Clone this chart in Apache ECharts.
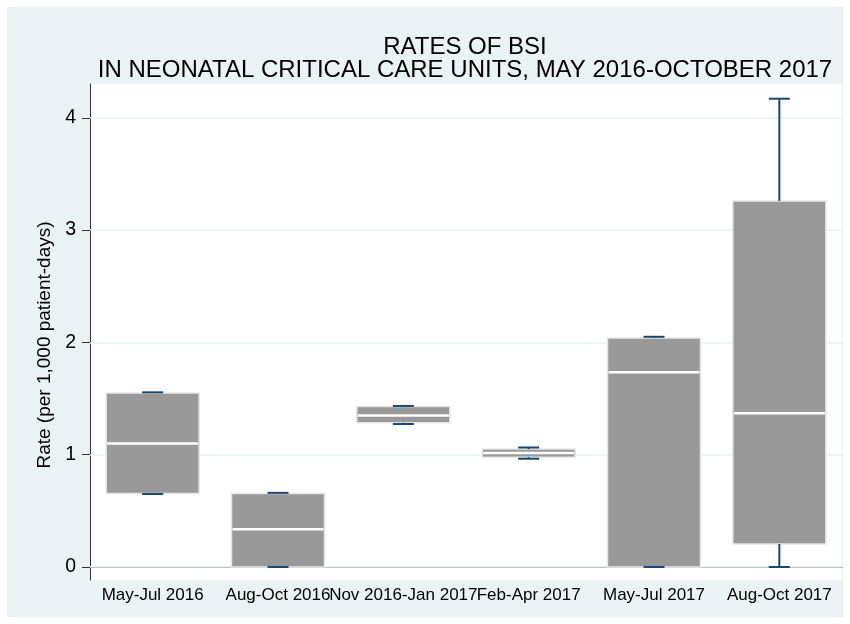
<!DOCTYPE html>
<html>
<head>
<meta charset="utf-8">
<script src="https://cdn.jsdelivr.net/npm/echarts@6/dist/echarts.min.js"></script>
<style>
  html, body { margin: 0; padding: 0; background: #fff; }
  #chart { width: 850px; height: 624px; }
</style>
</head>
<body>
<div id="chart"></div>
<script>
var categories = ['May-Jul 2016', 'Aug-Oct 2016', 'Nov 2016-Jan 2017', 'Feb-Apr 2017', 'May-Jul 2017', 'Aug-Oct 2017'];
// box plot stats per period
var lowerWhisker = [0.65, 0, 1.273, 0.964, 0, 0];
var q1 = [0.655, 0, 1.285, 0.977, 0, 0.205];
var median = [1.10, 0.335, 1.350, 1.015, 1.733, 1.37];
var q3 = [1.55, 0.655, 1.428, 1.05, 2.04, 3.26];
var upperWhisker = [1.555, 0.66, 1.434, 1.064, 2.05, 4.17];
var yTicks = [0, 1, 2, 3, 4];

var font = "'Liberation Sans', Arial, sans-serif";
var navy = '#1a476f';

var boxData = categories.map(function (c, i) {
    return [i, lowerWhisker[i], q1[i], median[i], q3[i], upperWhisker[i]];
});

function renderBox(params, api) {
    var i = api.value(0);
    var pMin = api.coord([i, api.value(1)]);
    var pQ1 = api.coord([i, api.value(2)]);
    var pMed = api.coord([i, api.value(3)]);
    var pQ3 = api.coord([i, api.value(4)]);
    var pMax = api.coord([i, api.value(5)]);
    var bw = 93;   // box width
    var cw = 21;   // whisker cap width
    var x = pMed[0];
    var wStyle = { stroke: navy, lineWidth: 2 };
    return {
        type: 'group',
        children: [
            {
                type: 'rect',
                shape: { x: x - bw / 2, y: pQ3[1], width: bw, height: pQ1[1] - pQ3[1] },
                style: { fill: '#999999', stroke: '#e6e6e6', lineWidth: 1.5 }
            },
            {
                type: 'line',
                shape: { x1: x - bw / 2 + 1, y1: pMed[1], x2: x + bw / 2 - 1, y2: pMed[1] },
                style: { stroke: '#ffffff', lineWidth: 2.5 }
            },
            { type: 'line', shape: { x1: x, y1: pQ3[1], x2: x, y2: pMax[1] }, style: wStyle },
            { type: 'line', shape: { x1: x, y1: pQ1[1], x2: x, y2: pMin[1] }, style: wStyle },
            { type: 'line', shape: { x1: x - cw / 2, y1: pMax[1], x2: x + cw / 2, y2: pMax[1] }, style: wStyle },
            { type: 'line', shape: { x1: x - cw / 2, y1: pMin[1], x2: x + cw / 2, y2: pMin[1] }, style: wStyle }
        ]
    };
}

var chart = echarts.init(document.getElementById('chart'));

var option = {
    backgroundColor: '#ffffff',
    animation: false,
    graphic: [{
        type: 'rect',
        z: -10,
        silent: true,
        shape: { x: 7, y: 7, width: 836, height: 610 },
        style: { fill: '#eaf2f3' }
    }],
    title: {
        text: 'RATES OF BSI\nIN NEONATAL CRITICAL CARE UNITS, MAY 2016-OCTOBER 2017',
        left: 460,
        top: 31,
        textAlign: 'center',
        textStyle: {
            fontFamily: font,
            fontWeight: 'normal',
            fontSize: 24,
            lineHeight: 23,
            color: '#000'
        }
    },
    grid: {
        left: 90,
        right: 8,
        top: 84,
        bottom: 44,
        show: true,
        backgroundColor: '#ffffff',
        borderWidth: 0
    },
    xAxis: {
        type: 'category',
        data: categories,
        axisLine: { lineStyle: { color: '#333', width: 1 } },
        axisTick: { show: false },
        axisLabel: {
            interval: 0,
            margin: 7,
            fontFamily: font,
            fontSize: 17,
            color: '#000'
        },
        splitLine: { show: false }
    },
    yAxis: {
        type: 'value',
        min: -0.116,
        max: 4.301,
        name: 'Rate (per 1,000 patient-days)',
        nameLocation: 'middle',
        nameGap: 35,
        nameTextStyle: { fontFamily: font, fontSize: 19, color: '#000', padding: [0, 26, 0, 0] },
        axisLine: { show: true, lineStyle: { color: '#333', width: 1 } },
        axisTick: { show: true, length: 8, customValues: yTicks, lineStyle: { color: '#333' } },
        axisLabel: {
            customValues: yTicks,
            margin: 14,
            fontFamily: font,
            fontSize: 19.5,
            color: '#000'
        },
        splitLine: { show: false }
    },
    series: [
        {
            type: 'line',
            data: [],
            z: 1,
            markLine: {
                z: 1,
                silent: true,
                symbol: 'none',
                label: { show: false },
                lineStyle: { color: '#eaf2f3', width: 1.5, type: 'solid' },
                data: yTicks.map(function (t) { return { yAxis: t }; })
            }
        },
        {
            type: 'custom',
            z: 3,
            renderItem: renderBox,
            data: boxData
        }
    ]
};

chart.setOption(option);
</script>
</body>
</html>
